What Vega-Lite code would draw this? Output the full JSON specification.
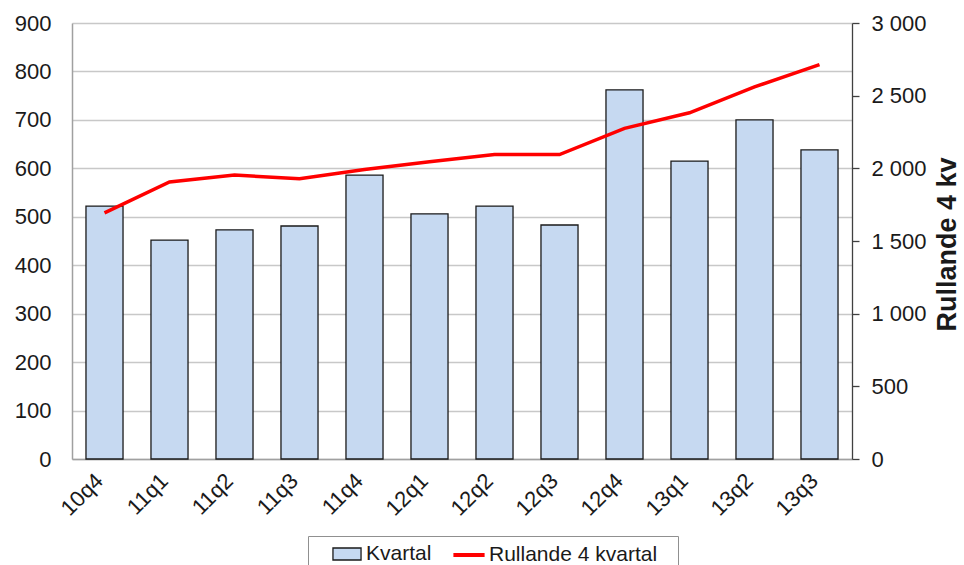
{
  "$schema": "https://vega.github.io/schema/vega-lite/v6.json",
  "autosize": {"type": "none"},
  "padding": {"left": 72, "top": 23, "right": 112, "bottom": 106},
  "width": 780,
  "height": 436,
  "background": "white",
  "config": {
    "font": "Liberation Sans",
    "view": {"stroke": null},
    "axis": {"labelFont": "Liberation Sans", "titleFont": "Liberation Sans", "labelColor": "#1a1a1a", "titleColor": "#1a1a1a"},
    "legend": {"labelFont": "Liberation Sans", "titleFont": "Liberation Sans"}
  },
  "data": {
    "values": [
      {"q": "10q4", "kvartal": 522, "rull": 1693},
      {"q": "11q1", "kvartal": 452, "rull": 1906},
      {"q": "11q2", "kvartal": 473, "rull": 1954},
      {"q": "11q3", "kvartal": 481, "rull": 1928},
      {"q": "11q4", "kvartal": 586, "rull": 1992},
      {"q": "12q1", "kvartal": 506, "rull": 2046},
      {"q": "12q2", "kvartal": 522, "rull": 2095},
      {"q": "12q3", "kvartal": 483, "rull": 2095},
      {"q": "12q4", "kvartal": 762, "rull": 2275},
      {"q": "13q1", "kvartal": 615, "rull": 2382},
      {"q": "13q2", "kvartal": 700, "rull": 2560},
      {"q": "13q3", "kvartal": 638, "rull": 2713}
    ]
  },
  "encoding": {
    "x": {
      "field": "q", "type": "nominal", "sort": null,
      "scale": {"paddingInner": 0.43, "paddingOuter": 0.215},
      "axis": {"title": null, "labelAngle": -45, "labelFontSize": 22, "labelBaseline": "middle", "labelAlign": "right", "ticks": false, "labelPadding": 18, "labelOffset": -5, "domainColor": "#a0a0a0", "domainWidth": 1.5}
    }
  },
  "layer": [
    {
      "mark": {"type": "bar", "stroke": "#1a1a1a", "strokeWidth": 1.3},
      "encoding": {
        "y": {
          "field": "kvartal", "type": "quantitative",
          "scale": {"domain": [0, 900], "nice": false},
          "axis": {"title": null, "orient": "left", "values": [0,100,200,300,400,500,600,700,800,900], "labelFontSize": 22, "ticks": false, "labelPadding": 21, "grid": true, "gridColor": "#c8c8c8", "gridWidth": 1.3, "domainColor": "#a0a0a0", "domainWidth": 1.5}
        },
        "fill": {
          "datum": "Kvartal",
          "scale": {"domain": ["Kvartal"], "range": ["#c6d9f1"]},
          "legend": {
            "orient": "none", "legendX": 257, "legendY": 513,
            "direction": "horizontal", "title": null,
            "labelFontSize": 21, "labelColor": "#1a1a1a", "labelOffset": 6, "labelLimit": 400,
            "symbolType": "M-1.17,-0.5H1.17V0.5H-1.17Z", "symbolSize": 576,
            "symbolStrokeColor": "#1a1a1a", "symbolStrokeWidth": 1.3,
            "padding": 5, "strokeColor": null, "fillColor": null
          }
        }
      }
    },
    {
      "mark": {"type": "line", "strokeWidth": 3.5},
      "encoding": {
        "y": {
          "field": "rull", "type": "quantitative",
          "scale": {"domain": [0, 3000], "nice": false},
          "axis": {"title": "Rullande 4 kv", "orient": "right", "values": [0,500,1000,1500,2000,2500,3000], "labelExpr": "replace(format(datum.value, ','), ',', ' ')", "labelFontSize": 22, "tickSize": 7, "tickColor": "#404040", "tickWidth": 1.3, "labelPadding": 12, "grid": false, "domainColor": "#404040", "domainWidth": 1.3, "titleFontSize": 27, "titleFontWeight": "bold", "titleAngle": 270, "titleX": 103, "titleY": 221, "titleAlign": "center", "titleBaseline": "alphabetic"}
        },
        "stroke": {
          "datum": "Rullande 4 kvartal",
          "scale": {"domain": ["Rullande 4 kvartal"], "range": ["#ff0000"]},
          "legend": {
            "orient": "none", "legendX": 236, "legendY": 513,
            "direction": "horizontal",
            "title": "MMMMMMMM",
            "titleOrient": "left", "titlePadding": 2, "titleFontSize": 21, "titleFontWeight": "normal", "titleColor": "transparent", "titleLimit": 400,
            "labelFontSize": 21, "labelColor": "#1a1a1a", "labelOffset": 6, "labelLimit": 400,
            "labelExpr": "datum.label + '\u2800'",
            "symbolType": "M-1.3,0L1.3,0", "symbolSize": 576, "symbolStrokeWidth": 4,
            "padding": 5, "strokeColor": "#909090", "fillColor": null
          }
        }
      }
    }
  ],
  "resolve": {"scale": {"y": "independent"}}
}
